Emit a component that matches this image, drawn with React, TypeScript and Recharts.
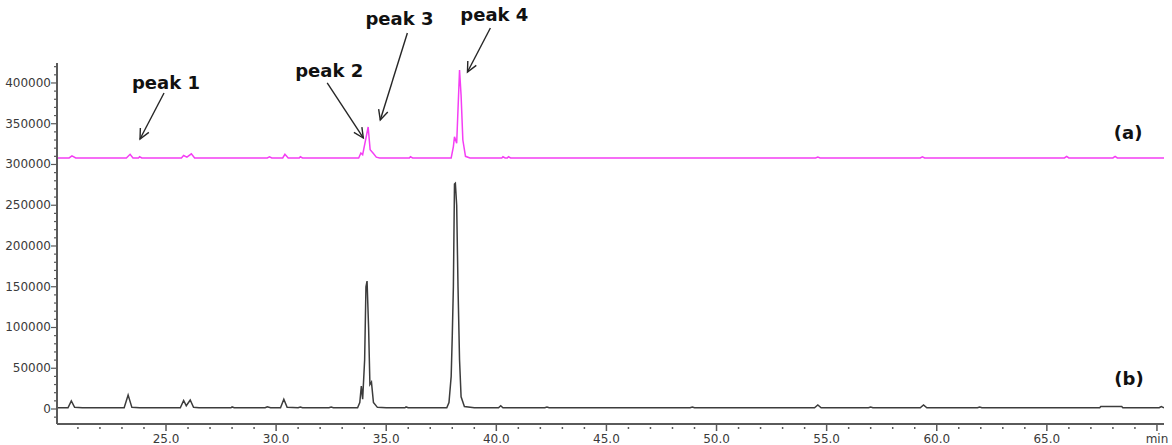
import { LineChart, Line, XAxis, YAxis, ReferenceLine, ReferenceDot } from 'recharts';

// trace (b): sample, retention time (min) vs. response
const timesB = [
  20.05, 20.55, 20.7, 20.85, 21.2, 23.1, 23.28, 23.45, 23.8, 25.65, 25.8, 25.92, 26.1, 26.25, 26.5,
  27.95, 28.0, 28.1, 29.5, 29.6, 29.75, 30.2, 30.35, 30.5, 31.0, 31.1, 31.2, 32.4, 32.5, 32.6,
  33.7, 33.8, 33.87, 33.93, 34.02, 34.08, 34.13, 34.2, 34.26, 34.33, 34.42, 34.6, 35.0,
  35.85, 35.9, 36.0, 37.75, 37.85, 37.95, 38.0, 38.05, 38.1, 38.14, 38.2, 38.26, 38.33, 38.4, 38.55, 39.0,
  40.1, 40.2, 40.3, 42.2, 42.3, 42.4, 48.8, 48.9, 49.0, 54.45, 54.6, 54.75, 56.9, 57.0, 57.1,
  59.25, 59.4, 59.55, 61.85, 61.95, 62.05, 67.4, 67.45, 68.4, 68.45, 70.1, 70.2, 70.32,
];
const valuesB = [
  1500, 1500, 10000, 2000, 1500, 1500, 17000, 2000, 1500, 1500, 10500, 4000, 11000, 2000, 1500,
  1500, 2500, 1500, 1500, 2800, 1500, 1500, 12000, 2000, 1500, 2500, 1500, 1500, 2500, 1500,
  1500, 8000, 28000, 12000, 60000, 150000, 157000, 100000, 30000, 33000, 8000, 2000, 1500,
  1500, 2500, 1500, 1500, 8000, 40000, 90000, 150000, 276000, 277000, 250000, 150000, 60000, 15000, 3000, 1500,
  1500, 4000, 1500, 1500, 2500, 1500, 1500, 2500, 1500, 1500, 5000, 1500, 1500, 2500, 1500,
  1500, 5000, 1500, 1500, 2500, 1500, 1500, 3000, 3000, 1500, 1500, 3000, 1500,
];

// trace (a): standard, offset above (b)
const timesA = [
  20.05, 20.6, 20.73, 20.9, 23.2, 23.37, 23.5, 23.75, 23.8, 23.9, 25.7, 25.8, 25.95, 26.15, 26.3,
  29.6, 29.7, 29.8, 30.3, 30.4, 30.55, 31.05, 31.1, 31.2, 33.75, 33.85, 33.93, 34.1, 34.18, 34.27,
  34.4, 34.55, 34.7, 36.05, 36.1, 36.2, 37.95, 38.05, 38.1, 38.2, 38.33, 38.4, 38.48, 38.6, 38.8,
  40.25, 40.3, 40.4, 40.5, 40.55, 40.65, 54.5, 54.6, 54.7, 59.25, 59.35, 59.45, 65.8, 65.9, 66.0,
  68.0, 68.1, 68.2, 70.32,
];
const valuesA = [
  308000, 308000, 310500, 308000, 308000, 312500, 308000, 308000, 309500, 308000, 308000, 311000, 309000, 313000, 308000,
  308000, 309500, 308000, 308000, 312500, 308000, 308000, 309500, 308000, 308000, 314000, 312000, 335000, 346000, 318000,
  314000, 309000, 308000, 308000, 309500, 308000, 308000, 322000, 334000, 326000, 416000, 385000, 330000, 310000, 308000,
  308000, 309500, 308000, 308000, 309500, 308000, 308000, 309000, 308000, 308000, 309500, 308000, 308000, 310000, 308000,
  308000, 310000, 308000, 308000,
];

const xTicks = [
  21, 22, 23, 24, 25, 26, 27, 28, 29, 30, 31, 32, 33, 34, 35, 36, 37, 38, 39, 40, 41, 42, 43, 44, 45,
  46, 47, 48, 49, 50, 51, 52, 53, 54, 55, 56, 57, 58, 59, 60, 61, 62, 63, 64, 65, 66, 67, 68, 69, 70,
];
const yTicks = [
  -10000, 0, 10000, 20000, 30000, 40000, 50000, 60000, 70000, 80000, 90000, 100000, 110000, 120000,
  130000, 140000, 150000, 160000, 170000, 180000, 190000, 200000, 210000, 220000, 230000, 240000,
  250000, 260000, 270000, 280000, 290000, 300000, 310000, 320000, 330000, 340000, 350000, 360000,
  370000, 380000, 390000, 400000, 410000, 420000,
];

// annotations: label position, arrow start, arrow tip (data coordinates)
const peakLabels = ['peak 1', 'peak 2', 'peak 3', 'peak 4'];
const labelPos = [[25.0, 401000], [32.41, 414700], [35.6, 479700], [39.91, 483400]];
const arrowFrom = [[24.91, 387700], [32.32, 400000], [35.96, 461300], [39.73, 467400]];
const arrowTo = [[23.82, 331300], [33.96, 332500], [34.73, 354600], [38.69, 413500]];
const traceLabels = ['(a)', '(b)'];
const tracePos = [[68.69, 339800], [68.73, 38000]];

const dataA = timesA.map((t, i) => ({ t, a: valuesA[i] }));
const dataB = timesB.map((t, i) => ({ t, b: valuesB[i] }));

const FONT = '"DejaVu Sans", Verdana, sans-serif';
const AXIS = '#5a5a5a';
const TEXT = '#3a3a3a';

const XTick = ({ x, y, payload }: any) => {
  const v = payload.value;
  const major = v % 5 === 0;
  return (
    <g>
      {major ? (
        <line x1={x} y1={y + 1} x2={x} y2={y + 7} stroke={AXIS} strokeWidth={1.5} />
      ) : (
        <line x1={x} y1={y + 3} x2={x} y2={y + 5} stroke={AXIS} strokeWidth={1.5} />
      )}
      {major && (
        <text x={x} y={y + 19} textAnchor="middle" fontSize={12} fontFamily={FONT} fill={TEXT}>
          {v === 70 ? 'min' : v.toFixed(1)}
        </text>
      )}
    </g>
  );
};

const YTick = ({ x, y, payload }: any) => {
  const v = payload.value;
  const major = v % 50000 === 0 && v >= 0;
  return (
    <g>
      <line x1={x - (major ? 6 : 3)} y1={y} x2={x} y2={y} stroke={AXIS} strokeWidth={1.2} />
      {major && (
        <text x={x - 6} y={y + 4} textAnchor="end" fontSize={12} fontFamily={FONT} fill={TEXT}>
          {String(v)}
        </text>
      )}
    </g>
  );
};

const Arrow = ({ x1, y1, x2, y2 }: any) => {
  const ang = Math.atan2(y2 - y1, x2 - x1);
  const len = 11;
  const spread = 0.45;
  const ax = x2 - len * Math.cos(ang - spread);
  const ay = y2 - len * Math.sin(ang - spread);
  const bx = x2 - len * Math.cos(ang + spread);
  const by = y2 - len * Math.sin(ang + spread);
  return (
    <g stroke="#262626" strokeWidth={1.4} fill="none">
      <line x1={x1} y1={y1} x2={x2} y2={y2} />
      <polyline points={`${ax},${ay} ${x2},${y2} ${bx},${by}`} />
    </g>
  );
};

const boldText = (label: string) => (p: any) => (
  <text
    x={p.cx}
    y={p.cy}
    textAnchor="middle"
    dominantBaseline="central"
    fontSize={18}
    fontWeight="bold"
    fontFamily={FONT}
    fill="#111"
  >
    {label}
  </text>
);

export default function App() {
  return (
    <div style={{ position: 'absolute', left: 0, top: 0, background: '#fff' }}>
      <LineChart width={1172} height={445} margin={{ top: 63, right: 8, bottom: 0, left: 0 }}>
        <XAxis
          type="number"
          dataKey="t"
          domain={[20.05, 70.32]}
          allowDataOverflow
          ticks={xTicks}
          interval={0}
          tick={<XTick />}
          tickLine={false}
          tickSize={0}
          tickMargin={0}
          height={21}
          axisLine={{ stroke: AXIS, strokeWidth: 2 }}
        />
        <YAxis
          type="number"
          domain={[-18400, 424500]}
          allowDataOverflow
          ticks={yTicks}
          interval={0}
          tick={<YTick />}
          tickLine={false}
          tickSize={0}
          tickMargin={0}
          width={57}
          axisLine={{ stroke: AXIS, strokeWidth: 2 }}
        />
        <YAxis
          yAxisId="right"
          orientation="right"
          width={0}
          tick={false}
          tickLine={false}
          axisLine={{ stroke: AXIS, strokeWidth: 2 }}
        />
        <Line
          data={dataA}
          dataKey="a"
          type="linear"
          stroke="#f43ef4"
          strokeWidth={1.5}
          dot={false}
          isAnimationActive={false}
        />
        <Line
          data={dataB}
          dataKey="b"
          type="linear"
          stroke="#3c3c3c"
          strokeWidth={1.5}
          dot={false}
          isAnimationActive={false}
        />
        {peakLabels.map((label, i) => (
          <ReferenceLine
            key={`arrow-${i}`}
            segment={[
              { x: arrowFrom[i][0], y: arrowFrom[i][1] },
              { x: arrowTo[i][0], y: arrowTo[i][1] },
            ]}
            ifOverflow="visible"
            shape={Arrow}
          />
        ))}
        {peakLabels.map((label, i) => (
          <ReferenceDot
            key={`label-${i}`}
            x={labelPos[i][0]}
            y={labelPos[i][1]}
            r={1}
            ifOverflow="visible"
            shape={boldText(label)}
          />
        ))}
        {traceLabels.map((label, i) => (
          <ReferenceDot
            key={`trace-${i}`}
            x={tracePos[i][0]}
            y={tracePos[i][1]}
            r={1}
            ifOverflow="visible"
            shape={boldText(label)}
          />
        ))}
      </LineChart>
    </div>
  );
}
